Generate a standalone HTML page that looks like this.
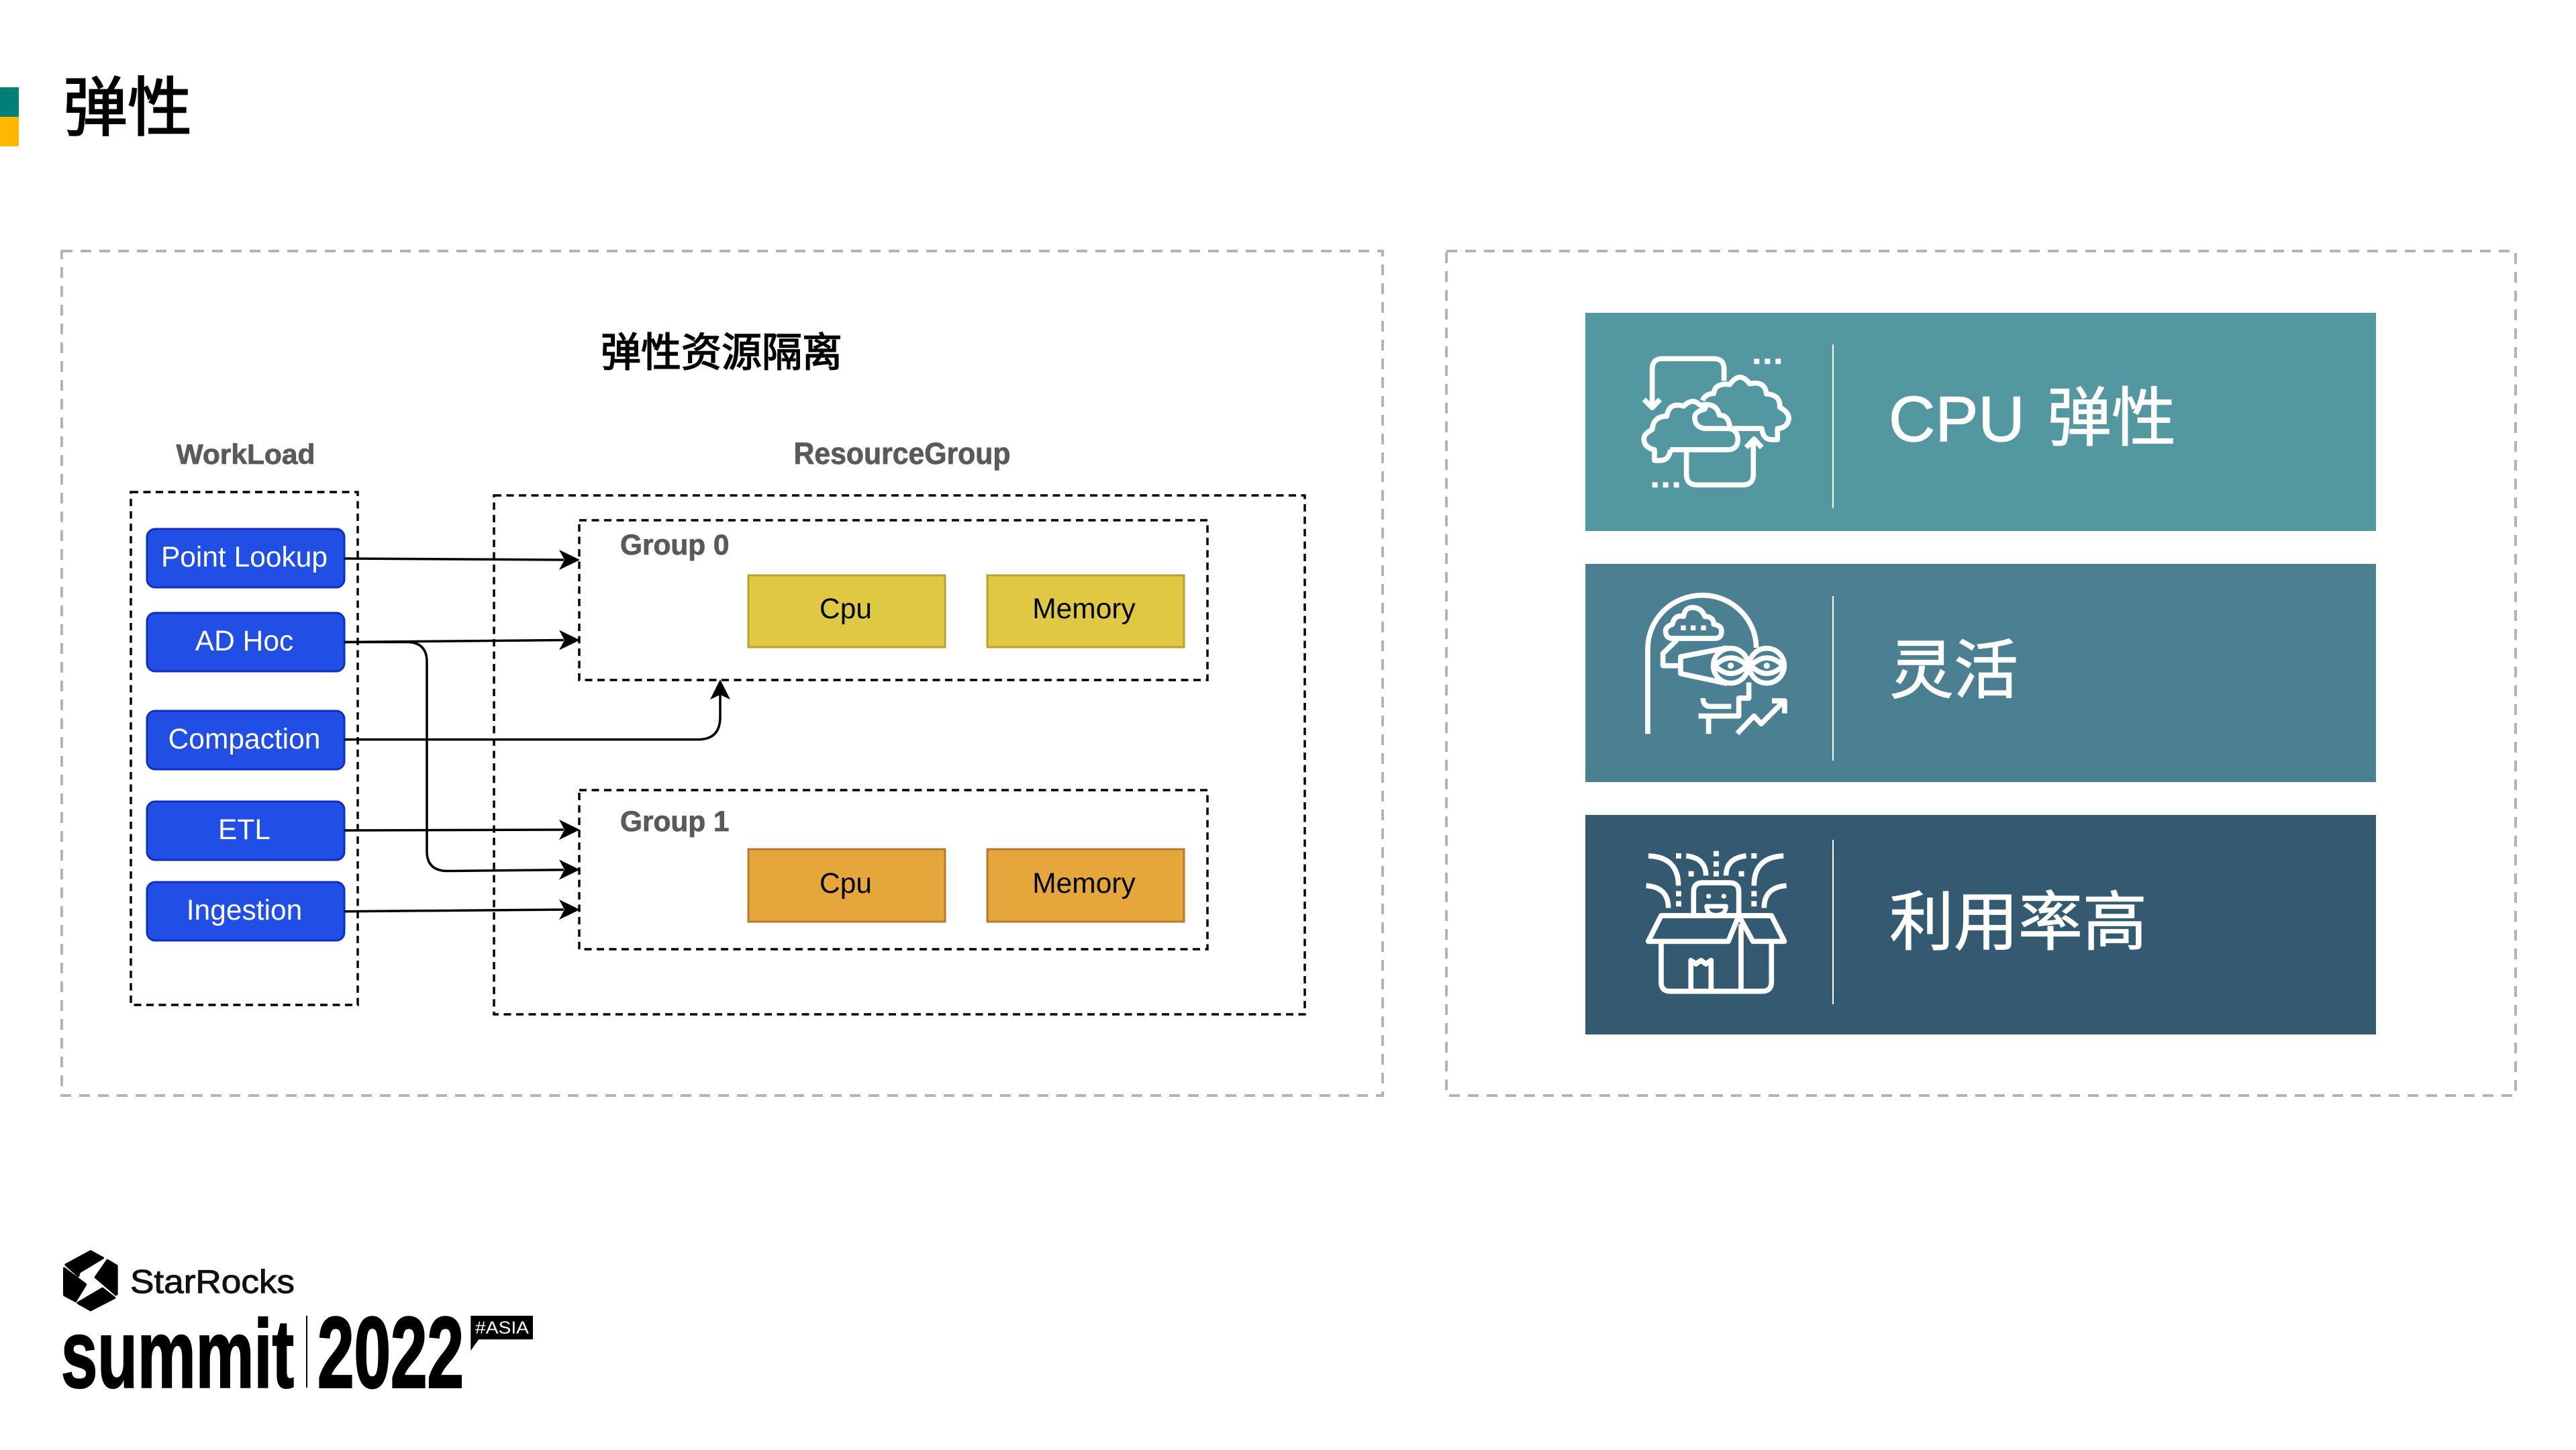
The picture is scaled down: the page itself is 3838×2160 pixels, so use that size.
<!DOCTYPE html>
<html lang="zh"><head><meta charset="utf-8"><title>弹性</title>
<style>html,body{margin:0;padding:0;background:#fff;width:3838px;height:2160px;overflow:hidden}svg{display:block}
.c{font-family:"Liberation Sans","Noto Sans CJK SC",sans-serif}
</style></head><body>
<svg xmlns="http://www.w3.org/2000/svg" width="3838" height="2160" viewBox="0 0 3838 2160">
<rect width="3838" height="2160" fill="#fff"/>
<rect x="0" y="130" width="28" height="44" fill="#007f76"/>
<rect x="0" y="174" width="28" height="44" fill="#fcb900"/>
<text x="94" y="194" class="c" font-size="96" fill="#000" stroke="#000" stroke-width="2">弹性</text>

<g fill="none" stroke="#b3b3b3" stroke-width="4" stroke-dasharray="16 12">
<rect x="92" y="374" width="1968" height="1258"/>
<rect x="2155" y="374" width="1593" height="1258"/>
</g>
<text x="1075" y="546" class="c" font-size="60" fill="#000" text-anchor="middle" stroke="#000" stroke-width="1.6">弹性资源隔离</text>

<g font-family="'Liberation Sans',sans-serif" font-weight="700" fill="#5a5a5a" stroke="#5a5a5a" stroke-width=".8">
<text x="366" y="691" font-size="42" text-anchor="middle" textLength="207" lengthAdjust="spacingAndGlyphs">WorkLoad</text>
<text x="1344" y="691" font-size="45" text-anchor="middle" textLength="323" lengthAdjust="spacingAndGlyphs">ResourceGroup</text>
<text x="924" y="826" font-size="42.4">Group 0</text>
<text x="924" y="1238" font-size="42.4">Group 1</text>
</g>

<g fill="none" stroke="#000" stroke-width="3.5" stroke-dasharray="11 7.5">
<rect x="195" y="733" width="338" height="764"/>
<rect x="736" y="738" width="1208" height="773"/>
<rect x="863" y="775" width="936" height="238"/>
<rect x="863" y="1177" width="936" height="237"/>
</g>

<g fill="#214fe6" stroke="#0f2fc0" stroke-width="3">
<rect x="219" y="788" width="294" height="87" rx="12"/>
<rect x="219" y="913" width="294" height="87" rx="12"/>
<rect x="219" y="1059" width="294" height="87" rx="12"/>
<rect x="219" y="1194" width="294" height="87" rx="12"/>
<rect x="219" y="1314" width="294" height="87" rx="12"/>
</g>
<g font-family="'Liberation Sans',sans-serif" font-size="42.5" fill="#fff" text-anchor="middle">
<text x="364" y="844">Point Lookup</text>
<text x="364" y="969">AD Hoc</text>
<text x="364" y="1115">Compaction</text>
<text x="364" y="1250">ETL</text>
<text x="364" y="1370">Ingestion</text>
</g>

<g stroke-width="3">
<rect x="1115" y="857" width="293" height="107" fill="#dfc942" stroke="#b8a035"/>
<rect x="1471" y="857" width="293" height="107" fill="#dfc942" stroke="#b8a035"/>
<rect x="1115" y="1265" width="293" height="108" fill="#e5a63c" stroke="#b87a2c"/>
<rect x="1471" y="1265" width="293" height="108" fill="#e5a63c" stroke="#b87a2c"/>
</g>
<g font-family="'Liberation Sans',sans-serif" font-size="42.5" fill="#000" text-anchor="middle">
<text x="1260" y="921">Cpu</text><text x="1615" y="921">Memory</text>
<text x="1260" y="1330">Cpu</text><text x="1615" y="1330">Memory</text>
</g>

<g fill="none" stroke="#000" stroke-width="3.5">
<path d="M513 832 L840 834"/>
<path d="M513 956.5 L840 953.5"/>
<path d="M513 956.5 H606 Q636 956.5 636 986 V1268 Q636 1297.5 667 1297.5 L840 1295.7"/>
<path d="M513 1101.6 H1040 Q1073 1101.6 1073 1068 V1035"/>
<path d="M513 1237 L840 1236"/>
<path d="M513 1357.7 L840 1355"/>
</g>
<g fill="#000">
<path d="M864 834 L833 819 L841 834 L833 849Z"/>
<path d="M864 953.5 L833 938.5 L841 953.5 L833 968.5Z"/>
<path d="M864 1236 L833 1221 L841 1236 L833 1251Z"/>
<path d="M864 1295.5 L833 1280.5 L841 1295.5 L833 1310.5Z"/>
<path d="M864 1355 L833 1340 L841 1355 L833 1370Z"/>
<path d="M1073 1012 L1058 1042 L1073 1035 L1088 1042Z"/>
</g>

<rect x="2362" y="466" width="1178" height="325" fill="#5397a1"/>
<rect x="2362" y="840" width="1178" height="325" fill="#4b7f92"/>
<rect x="2362" y="1214" width="1178" height="327" fill="#335a70"/>
<g fill="#fff">
<rect x="2730" y="513" width="2" height="244"/>
<rect x="2730" y="888" width="2" height="245"/>
<rect x="2730" y="1251" width="2" height="245"/>
</g>
<g class="c" font-size="96" fill="#fff" stroke="#fff" stroke-width="1.2">
<text x="2814" y="657">CPU</text>
<text x="3050" y="656">弹性</text>
<text x="2815" y="1032">灵活</text>
<text x="2815" y="1407">利用率高</text>
</g>

<!-- icon 1 -->
<g transform="translate(2340 450) scale(.3333)" fill="none" stroke="#fff" stroke-width="23" stroke-linejoin="round">
<path d="M686 352 V300 Q686 253 640 253 H410 Q365 253 365 300 V470"/>
<path d="M328 435 L365 472 L400 435"/>
<path d="M590 440 Q600 412 640 408 Q645 360 712 368 Q757 305 800 365 Q870 350 875 410 Q940 415 935 470 Q990 500 970 540 Q955 565 925 565 V615 H900 Q860 615 855 565 H720"/>
<path d="M445 660 H700 Q748 660 748 612 Q745 565 700 565 H600 Q555 560 555 515 Q555 490 600 478 Q610 455 610 458"/>
<path d="M712 555 Q705 505 665 505 Q655 460 610 458 L578 460 Q545 425 505 465 Q440 445 430 510 Q370 510 365 570 Q325 590 328 615 Q330 650 375 660 V708 H400 Q440 708 447 660"/>
<path d="M518 665 V770 Q518 817 565 817 H770 Q817 817 817 770 V615"/>
<path d="M785 650 L820 612 L855 650"/>
</g>
<g transform="translate(2340 450) scale(.3333)" fill="#fff">
<rect x="820" y="253" width="24" height="24"/><rect x="868" y="253" width="24" height="24"/><rect x="916" y="253" width="24" height="24"/>
<rect x="365" y="805" width="24" height="24"/><rect x="413" y="805" width="24" height="24"/><rect x="461" y="805" width="24" height="24"/>
</g>

<!-- icon 2 -->
<g transform="translate(2340 840) scale(.3333)" fill="none" stroke="#fff" stroke-width="23" stroke-linejoin="round">
<path d="M345 760 V380 C345 245 455 140 590 140 C725 140 830 250 830 375"/>
<path d="M455 333 H645 Q675 333 675 300 Q675 275 640 270 Q640 235 600 235 Q585 195 545 195 Q510 195 505 235 Q465 225 455 270 Q425 280 425 300 Q425 333 455 333Z"/>
<path d="M475 340 L413 400 V455 H490"/>
<path d="M700 375 L492 415 V490 L700 535"/>
<circle cx="716" cy="455" r="78"/>
<circle cx="877" cy="455" r="78"/>
<path d="M645 455 Q716 385 790 455 Q716 525 645 455Z"/>
<path d="M806 455 Q877 385 950 455 Q877 525 806 455Z"/>
<path d="M797 530 V600 H752 V680 H572"/>
<path d="M617 680 V760"/>
<path d="M592 600 Q592 637 625 637 H718"/>
<path d="M745 758 L820 680 L852 715 L955 612"/>
<path d="M900 612 H957 V668"/>
</g>
<g transform="translate(2340 840) scale(.3333)" fill="#fff">
<rect x="493" y="275" width="22" height="22"/><rect x="537" y="275" width="22" height="22"/><rect x="583" y="275" width="22" height="22"/>
<circle cx="716" cy="455" r="14"/><circle cx="877" cy="455" r="14"/>
</g>

<!-- icon 3 -->
<g transform="translate(2340 1220) scale(.3333)" fill="none" stroke="#fff" stroke-width="23" stroke-linejoin="round">
<path d="M348 165 Q482 170 482 298"/>
<path d="M338 298 Q437 305 437 398"/>
<path d="M517 165 Q605 175 605 253"/>
<path d="M952 165 Q820 170 820 298"/>
<path d="M965 298 Q865 305 865 398"/>
<path d="M785 165 Q695 175 695 253"/>
<path d="M550 425 V325 Q550 285 590 285 H710 Q752 285 752 325 V425"/>
<path d="M608 390 H695 Q693 430 650 430 Q610 430 608 390Z" stroke-width="20"/>
<path d="M347 547 L405 432 H752 L705 547Z"/>
<path d="M752 432 H898 L956 547 H815Z"/>
<path d="M405 550 V730 Q405 770 445 770 H855 Q898 770 898 730 V550"/>
<path d="M762 470 V770"/>
<path d="M538 770 V632 L560 648 L583 632 L605 648 L628 632 V770"/>
</g>
<g transform="translate(2340 1220) scale(.3333)" fill="#fff">
<rect x="471" y="153" width="24" height="24"/><rect x="639" y="143" width="24" height="24"/><rect x="639" y="189" width="24" height="24"/><rect x="639" y="233" width="24" height="24"/>
<rect x="527" y="233" width="24" height="24"/><rect x="808" y="153" width="24" height="24"/><rect x="752" y="233" width="24" height="24"/>
<rect x="471" y="322" width="24" height="24"/><rect x="471" y="367" width="24" height="24"/><rect x="808" y="322" width="24" height="24"/><rect x="808" y="367" width="24" height="24"/>
<circle cx="617" cy="345" r="11"/><circle cx="685" cy="345" r="11"/>
</g>

<!-- logo -->
<g transform="translate(80 1850) scale(.3333)" fill="#000" stroke="#000" stroke-width="10" stroke-linejoin="round">
<path d="M165 42 L220 72 L115 135 L110 152 L54 102Z"/>
<path d="M47 118 L143 190 L98 265 L47 238Z"/>
<path d="M240 82 L282 107 V233 L278 236 L187 158Z"/>
<path d="M218 208 L272 250 L165 305 L108 273Z"/>
</g>
<text x="194" y="1926" font-family="'Liberation Sans',sans-serif" font-size="49" textLength="245" lengthAdjust="spacingAndGlyphs" fill="#111" stroke="#111" stroke-width="1">StarRocks</text>
<text x="91" y="2066.5" font-family="'Liberation Sans',sans-serif" font-weight="700" font-size="144" textLength="347" lengthAdjust="spacingAndGlyphs" fill="#000" stroke="#000" stroke-width="2.5">summit</text>
<rect x="456" y="1960" width="2" height="107" fill="#000"/>
<text x="473" y="2066.5" font-family="'Liberation Sans',sans-serif" font-weight="700" font-size="150" textLength="218" lengthAdjust="spacingAndGlyphs" fill="#000" stroke="#000" stroke-width="3">2022</text>
<path d="M701.3 1960 H794 V1995.3 H713.3 L701.3 2012Z" fill="#000"/>
<text x="708" y="1986.7" font-family="'Liberation Sans',sans-serif" font-size="25.5" textLength="80" lengthAdjust="spacingAndGlyphs" fill="#fff">#ASIA</text>
</svg>
</body></html>
